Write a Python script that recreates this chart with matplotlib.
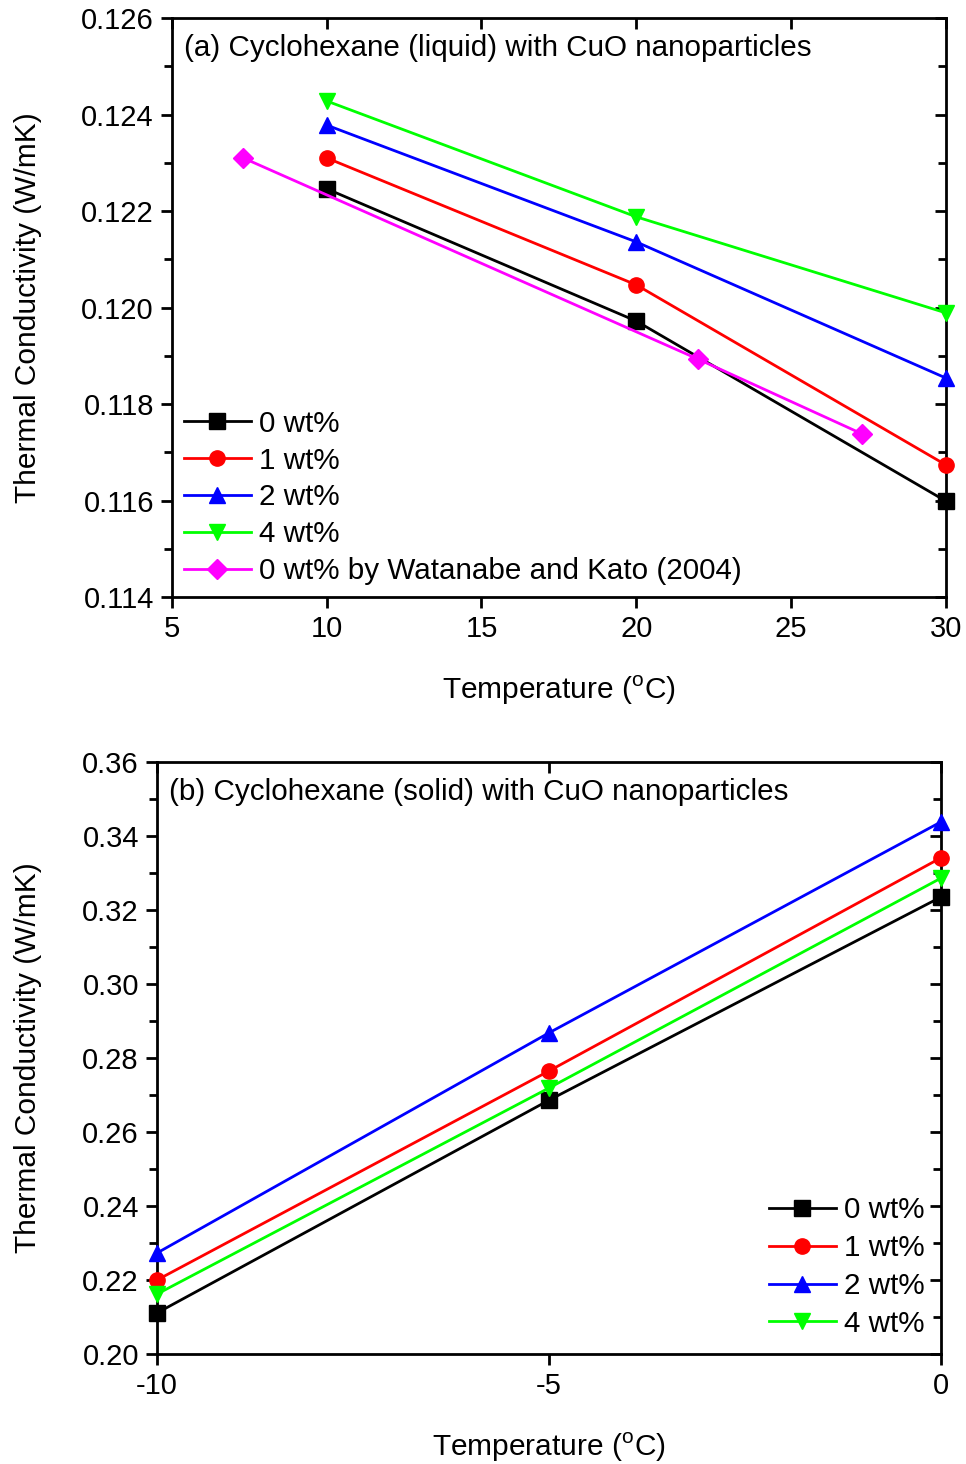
import matplotlib
matplotlib.use("Agg")
import matplotlib.pyplot as plt
from matplotlib.ticker import MultipleLocator

plt.rcParams["font.family"] = ["Liberation Sans", "DejaVu Sans"]
plt.rcParams["mathtext.fontset"] = "custom"
plt.rcParams["mathtext.rm"] = "Liberation Sans"
plt.rcParams["axes.unicode_minus"] = False

# (a) liquid
temp_liq = [10, 20, 30]
k_liq_0 = [0.12246, 0.11972, 0.11599]
k_liq_1 = [0.12310, 0.12047, 0.11674]
k_liq_2 = [0.12378, 0.12136, 0.11854]
k_liq_4 = [0.12428, 0.12188, 0.11989]
temp_wat = [7.3, 22.0, 27.3]
k_wat = [0.12310, 0.11893, 0.11738]

# (b) solid
temp_sol = [-10, -5, 0]
k_sol_0 = [0.2111, 0.2686, 0.3235]
k_sol_1 = [0.2200, 0.2765, 0.3341]
k_sol_2 = [0.2273, 0.2868, 0.3438]
k_sol_4 = [0.2162, 0.2719, 0.3286]

labels = ["0 wt%", "1 wt%", "2 wt%", "4 wt%"]
colors = ["#000000", "#ff0000", "#0000ff", "#00ff00"]
markers = ["s", "o", "^", "v"]

fig = plt.figure(figsize=(9.66, 14.64), dpi=100)
ax1 = fig.add_axes([0.178, 0.5922, 0.801, 0.3955])
ax2 = fig.add_axes([0.1625, 0.0751, 0.8115, 0.4044])

lw = 2.0
ms = 11

for ys, lab, c, m in zip([k_liq_0, k_liq_1, k_liq_2, k_liq_4], labels, colors, markers):
    ax1.plot(temp_liq, ys, color=c, marker=m, ms=ms, lw=lw, label=lab, clip_on=False, zorder=3)
ax1.plot(temp_wat, k_wat, color="#ff00ff", marker="D", ms=10, lw=lw,
         label="0 wt% by Watanabe and Kato (2004)", clip_on=False, zorder=3)

for ys, lab, c, m in zip([k_sol_0, k_sol_1, k_sol_2, k_sol_4], labels, colors, markers):
    ax2.plot(temp_sol, ys, color=c, marker=m, ms=ms, lw=lw, label=lab, clip_on=False, zorder=3)

ax1.set_xlim(5, 30)
ax1.set_ylim(0.114, 0.126)
ax1.xaxis.set_major_locator(MultipleLocator(5))
ax1.yaxis.set_major_locator(MultipleLocator(0.002))
ax1.yaxis.set_minor_locator(MultipleLocator(0.001))
ax1.set_yticklabels([f"{v:.3f}" for v in ax1.get_yticks()])

ax2.set_xlim(-10, 0)
ax2.set_ylim(0.20, 0.36)
ax2.xaxis.set_major_locator(MultipleLocator(5))
ax2.yaxis.set_major_locator(MultipleLocator(0.02))
ax2.yaxis.set_minor_locator(MultipleLocator(0.01))
ax2.set_yticklabels([f"{v:.2f}" for v in ax2.get_yticks()])

for ax, major, minor in ((ax1, 0.002, 0.001), (ax2, 0.02, 0.01)):
    for s in ax.spines.values():
        s.set_linewidth(2.0)
    ax.tick_params(axis="both", which="both", labelsize=21, width=2.0, pad=5)
    ax.tick_params(axis="x", which="major", direction="out", length=8, top=False)
    ax.tick_params(axis="y", which="major", direction="out", length=8, right=False)
    ax.tick_params(axis="y", which="minor", direction="out", length=6, right=False)
    sec = ax.secondary_xaxis("top")
    sec.set_xticks(ax.get_xticks())
    sec.tick_params(direction="in", length=8, width=2.0, labeltop=False)
    sec.spines["top"].set_visible(False)
    sec_y = ax.secondary_yaxis("right")
    sec_y.yaxis.set_major_locator(MultipleLocator(major))
    sec_y.yaxis.set_minor_locator(MultipleLocator(minor))
    sec_y.tick_params(which="major", direction="in", length=8, width=2.0, labelright=False)
    sec_y.tick_params(which="minor", direction="in", length=6, width=2.0)
    sec_y.spines["right"].set_visible(False)
    ax.set_xlabel("Temperature ($^{\\rm o}$C)", fontsize=21.5, labelpad=22)
    ax.set_ylabel("Thermal Conductivity (W/mK)", fontsize=21.5)

ax1.text(0.015, 0.948, "(a) Cyclohexane (liquid) with CuO nanoparticles",
         transform=ax1.transAxes, fontsize=21.3, va="center", ha="left")
ax2.text(0.015, 0.95, "(b) Cyclohexane (solid) with CuO nanoparticles",
         transform=ax2.transAxes, fontsize=21.3, va="center", ha="left")

ax1.legend(loc="lower left", bbox_to_anchor=(0.0, 0.0), frameon=False, fontsize=21.3,
           handlelength=2.27, handletextpad=0.27, labelspacing=0.30, borderaxespad=0.0)
ax2.legend(loc="lower right", bbox_to_anchor=(1.0, 0.0), frameon=False, fontsize=21.3,
           handlelength=2.27, handletextpad=0.27, labelspacing=0.33, borderaxespad=0.15)

ax1.yaxis.set_label_coords(-0.168, 0.5)
ax2.yaxis.set_label_coords(-0.147, 0.5)

fig.savefig("out.png", dpi=100)
